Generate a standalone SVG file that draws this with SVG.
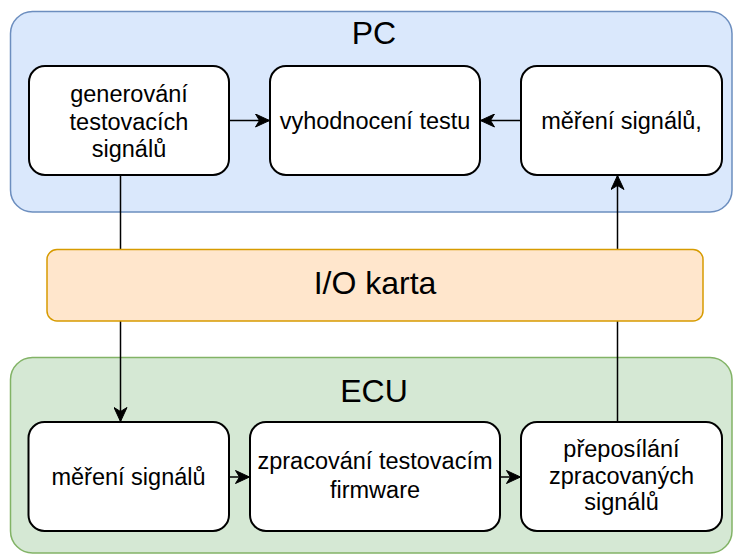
<svg xmlns="http://www.w3.org/2000/svg" width="733" height="554" viewBox="0 0 733 554">
<defs>
<style>
.t{font-family:"Liberation Sans",Arial,Helvetica,sans-serif;fill:#000;text-anchor:middle}
.n{font-size:23.5px}
.h{font-size:32px}
.box{fill:#fff;stroke:#000;stroke-width:2}
.c{fill:none;stroke:#000;stroke-width:1.5}
</style>
<marker id="ah" viewBox="0 0 15 14" refX="14.5" refY="7" markerWidth="15" markerHeight="14" markerUnits="userSpaceOnUse" orient="auto">
<path d="M0.5,0.5 L14.5,7 L0.5,13.5 L4.5,7 z" fill="#000" stroke="#000" stroke-width="1"/>
</marker>
</defs>
<rect width="733" height="554" fill="#fff"/>
<g id="pc">
<rect x="10.5" y="11.5" width="721.5" height="200.5" rx="22" fill="#dae8fc" stroke="#6c8ebf" stroke-width="1.5"/>
<text class="t h" x="374" y="44.3">PC</text>
</g>
<g id="ecu">
<rect x="10.5" y="357.5" width="721.5" height="195.5" rx="22" fill="#d5e8d4" stroke="#82b366" stroke-width="1.5"/>
<text class="t h" x="374" y="402.3">ECU</text>
</g>
<g id="connectors">
<line class="c" x1="229" y1="120.5" x2="269.5" y2="120.5" marker-end="url(#ah)"/>
<line class="c" x1="521" y1="120.5" x2="480.5" y2="120.5" marker-end="url(#ah)"/>
<line class="c" x1="120.5" y1="175" x2="120.5" y2="421.5" marker-end="url(#ah)"/>
<line class="c" x1="617.5" y1="422" x2="617.5" y2="175.5" marker-end="url(#ah)"/>
<line class="c" x1="229" y1="477" x2="249.5" y2="477" marker-end="url(#ah)"/>
<line class="c" x1="500" y1="477" x2="520.5" y2="477" marker-end="url(#ah)"/>
</g>
<g id="io">
<rect x="47" y="249.5" width="656" height="71.5" rx="10" fill="#ffe6cc" stroke="#d79b00" stroke-width="1.5"/>
<text class="t h" x="375" y="294.3">I/O karta</text>
</g>
<g id="gen">
<rect class="box" x="29" y="66" width="200" height="109" rx="16"/>
<text class="t n" x="129" y="101.5">generování</text>
<text class="t n" x="129" y="129.5">testovacích</text>
<text class="t n" x="129" y="157">signálů</text>
</g>
<g id="vyh">
<rect class="box" x="270" y="66" width="210" height="109" rx="16"/>
<text class="t n" x="375" y="128.8">vyhodnocení testu</text>
</g>
<g id="mer1">
<rect class="box" x="521" y="66" width="201" height="109" rx="16"/>
<text class="t n" x="621.5" y="128.8">měření signálů,</text>
</g>
<g id="mer2">
<rect class="box" x="28.5" y="422" width="200.5" height="109" rx="16"/>
<text class="t n" x="128.5" y="485">měření signálů</text>
</g>
<g id="zpr">
<rect class="box" x="250" y="422" width="250" height="109" rx="16"/>
<text class="t n" x="375" y="469">zpracování testovacím</text>
<text class="t n" x="375" y="497.5">firmware</text>
</g>
<g id="pre">
<rect class="box" x="521" y="422" width="201" height="109" rx="16"/>
<text class="t n" x="621.5" y="457">přeposílání</text>
<text class="t n" x="621.5" y="484">zpracovaných</text>
<text class="t n" x="621.5" y="510">signálů</text>
</g>
</svg>
